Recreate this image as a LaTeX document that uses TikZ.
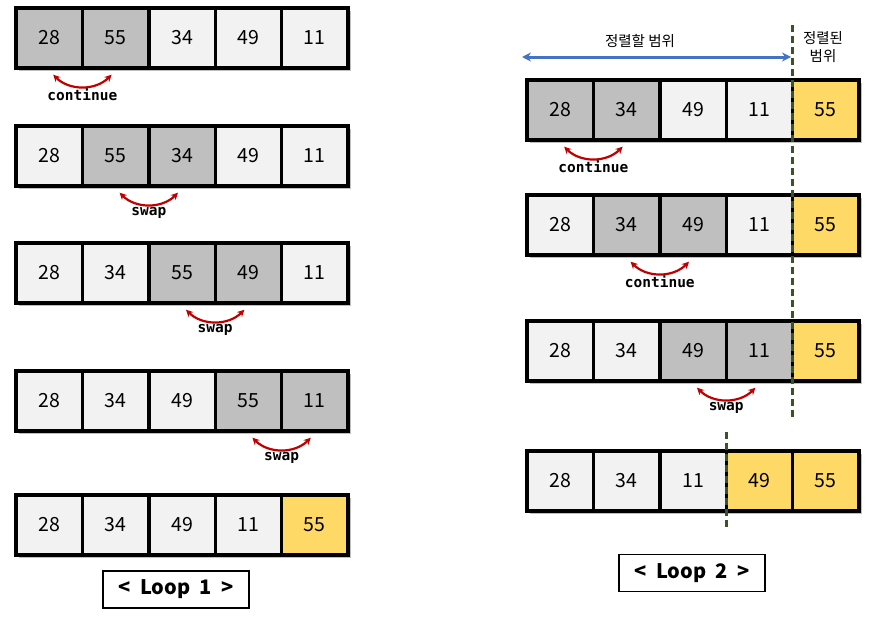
\documentclass[tikz,border=0pt]{standalone}
\usepackage{fontspec}
\newfontfamily\kr{Noto Sans CJK KR}
\newfontfamily\mono{DejaVu Sans Mono}
\usetikzlibrary{arrows.meta,calc}
\definecolor{lg}{HTML}{F2F2F2}
\definecolor{dg}{HTML}{BFBFBF}
\definecolor{yl}{HTML}{FFD966}
\definecolor{arcred}{HTML}{C00000}
\definecolor{arrblue}{HTML}{4472C4}
\definecolor{sepgreen}{HTML}{375623}
\newcommand\myarr[4]{%
  \fill[black!25] (#2+3,#3+3) rectangle (#2+335,#3+63);
  \foreach \v/\c [count=\i] in {#4} {
    \node[cell, fill=\c] (#1\i) at ({#2+66.4*(\i-0.5)}, {#3+30}) {\v};
  }
}
\newcommand\myarc[4]{%
  \draw[arcarrow] ($(#1.south)+(4,5)$) to[bend right=45] ($(#2.south)+(-4,5)$);
  \node[steplabel] (#4) at ($($(#1.south)!0.5!(#2.south)$)+(0,25)$) {#3};
}
\begin{document}
\begin{tikzpicture}[x=1pt,y=-1pt,
  cell/.style={draw, line width=3.4pt, minimum width=66.4pt, minimum height=60pt,
    inner sep=0pt, font=\kr\fontsize{19.5}{19.5}\selectfont},
  arcarrow/.style={draw=arcred, line width=2.2pt, {Stealth[length=7pt,width=7pt]}-{Stealth[length=7pt,width=7pt]}},
  steplabel/.style={inner sep=0pt, font=\mono\bfseries\fontsize{14.5}{14.5}\selectfont},
  loopbox/.style={draw, line width=1.8pt, minimum width=146pt, minimum height=37pt,
    inner sep=0pt, font=\kr\bfseries\fontsize{20}{20}\selectfont},
  sep/.style={draw=sepgreen, line width=2.8pt, dash pattern=on 7pt off 4pt},
  krtext/.style={inner sep=0pt, font=\kr\fontsize{14.5}{17.5}\selectfont, align=center}]
\useasboundingbox (0,0) rectangle (882,616);
\fill[white] (0,0) rectangle (882,616);
% left column
\myarr{La}{16}{8}{28/dg,55/dg,34/lg,49/lg,11/lg}
\myarr{Lb}{16}{126}{28/lg,55/dg,34/dg,49/lg,11/lg}
\myarr{Lc}{16}{243}{28/lg,34/lg,55/dg,49/dg,11/lg}
\myarr{Ld}{16}{371}{28/lg,34/lg,49/lg,55/dg,11/dg}
\myarr{Le}{16}{495}{28/lg,34/lg,49/lg,11/lg,55/yl}
\myarc{La1}{La2}{continue}{la}
\myarc{Lb2}{Lb3}{swap}{lb}
\myarc{Lc3}{Lc4}{swap}{lc}
\myarc{Ld4}{Ld5}{swap}{ld}
\node[loopbox] (loop1) at (176,589.5) {<\hspace{10pt}Loop\hspace{9pt}1\hspace{10pt}>};
% right column
\myarr{Ra}{527}{80}{28/dg,34/dg,49/lg,11/lg,55/yl}
\myarr{Rb}{527}{195}{28/lg,34/dg,49/dg,11/lg,55/yl}
\myarr{Rc}{527}{321}{28/lg,34/lg,49/dg,11/dg,55/yl}
\myarr{Rd}{527}{451}{28/lg,34/lg,11/lg,49/yl,55/yl}
\myarc{Ra1}{Ra2}{continue}{ra}
\myarc{Rb2}{Rb3}{continue}{rb}
\myarc{Rc3}{Rc4}{swap}{rc}
\node[loopbox] (loop2) at (692,573) {<\hspace{10pt}Loop\hspace{9pt}2\hspace{10pt}>};
% separators
\coordinate (s1top) at (792.6,25);
\coordinate (s1bot) at (792.6,420);
\draw[sep] (s1top) -- (s1bot);
\coordinate (s2top) at (726.2,432);
\coordinate (s2bot) at (726.2,530);
\draw[sep] (s2top) -- (s2bot);
% range arrow and labels
\coordinate (bl) at (522,57);
\coordinate (br) at (791,57);
\draw[draw=arrblue, line width=3pt, {Stealth[length=9pt,width=9pt]}-{Stealth[length=9pt,width=9pt]}] (bl) -- (br);
\node[krtext] (t1) at (640,41) {정렬할 범위};
\node[krtext] (t2) at (823,47) {정렬된\\범위};
\end{tikzpicture}
\end{document}
